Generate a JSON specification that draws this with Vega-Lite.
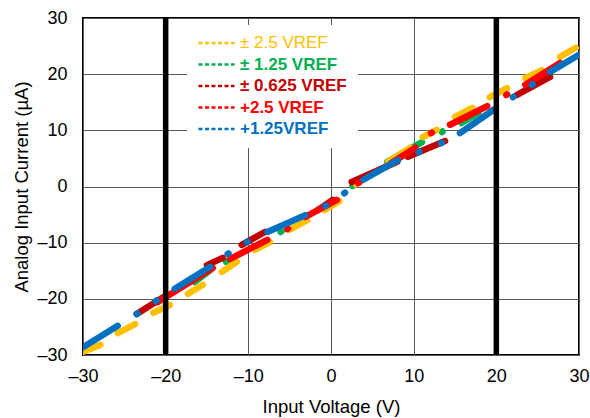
{
  "$schema": "https://vega.github.io/schema/vega-lite/v6.json",
  "width": 496,
  "height": 337,
  "autosize": {"type": "none"},
  "padding": {"left": 83, "top": 18, "right": 11, "bottom": 63},
  "background": "white",
  "config": {
    "view": {"stroke": "black", "strokeWidth": 2},
    "font": "Liberation Sans",
    "axis": {
      "labelFont": "Liberation Sans",
      "titleFont": "Liberation Sans",
      "labelFontSize": 18,
      "titleFontSize": 18.5,
      "titleFontWeight": "normal",
      "labelColor": "black",
      "titleColor": "black",
      "gridColor": "#5a5a5a",
      "gridWidth": 1,
      "ticks": false,
      "domain": false,
      "labelFlush": false
    }
  },
  "datasets": {
    "curves": [
      {"s": "± 1.25 VREF", "g": "G1", "x": -16.5, "y": -17.0},
      {"s": "± 1.25 VREF", "g": "G1", "x": -14.6, "y": -14.9},
      {"s": "± 1.25 VREF", "g": "G2", "x": -12.7, "y": -13.4},
      {"s": "± 1.25 VREF", "g": "G2", "x": -12.6, "y": -13.3},
      {"s": "± 1.25 VREF", "g": "G3", "x": -6.1, "y": -8.1},
      {"s": "± 1.25 VREF", "g": "G3", "x": -6.0, "y": -8.0},
      {"s": "± 1.25 VREF", "g": "G4", "x": 2.6, "y": 0.1},
      {"s": "± 1.25 VREF", "g": "G4", "x": 2.7, "y": 0.2},
      {"s": "± 1.25 VREF", "g": "G5", "x": 6.8, "y": 4.4},
      {"s": "± 1.25 VREF", "g": "G5", "x": 11.0, "y": 7.9},
      {"s": "± 1.25 VREF", "g": "G6", "x": 13.4, "y": 9.7},
      {"s": "± 1.25 VREF", "g": "G6", "x": 13.5, "y": 9.8},
      {"s": "± 1.25 VREF", "g": "G7", "x": 15.8, "y": 11.3},
      {"s": "± 1.25 VREF", "g": "G7", "x": 17.8, "y": 13.1},

      {"s": "± 2.5 VREF", "g": "Y1", "x": -30.3, "y": -29.6},
      {"s": "± 2.5 VREF", "g": "Y1", "x": -27.9, "y": -28.2},
      {"s": "± 2.5 VREF", "g": "Y2", "x": -25.8, "y": -26.1},
      {"s": "± 2.5 VREF", "g": "Y2", "x": -23.7, "y": -24.5},
      {"s": "± 2.5 VREF", "g": "Y3", "x": -21.5, "y": -22.5},
      {"s": "± 2.5 VREF", "g": "Y3", "x": -19.5, "y": -21.1},
      {"s": "± 2.5 VREF", "g": "Y4", "x": -17.3, "y": -19.1},
      {"s": "± 2.5 VREF", "g": "Y4", "x": -15.5, "y": -17.5},
      {"s": "± 2.5 VREF", "g": "Y5", "x": -13.2, "y": -15.2},
      {"s": "± 2.5 VREF", "g": "Y5", "x": -11.4, "y": -13.4},
      {"s": "± 2.5 VREF", "g": "Y6", "x": -9.2, "y": -11.3},
      {"s": "± 2.5 VREF", "g": "Y6", "x": -7.4, "y": -9.9},
      {"s": "± 2.5 VREF", "g": "Y7", "x": -5.0, "y": -7.7},
      {"s": "± 2.5 VREF", "g": "Y7", "x": -2.9, "y": -6.0},
      {"s": "± 2.5 VREF", "g": "Y8", "x": -0.8, "y": -4.2},
      {"s": "± 2.5 VREF", "g": "Y8", "x": 1.0, "y": -2.6},
      {"s": "± 2.5 VREF", "g": "Y9", "x": 3.0, "y": 0.4},
      {"s": "± 2.5 VREF", "g": "Y9", "x": 4.9, "y": 2.2},
      {"s": "± 2.5 VREF", "g": "Y10", "x": 6.9, "y": 4.4},
      {"s": "± 2.5 VREF", "g": "Y10", "x": 9.6, "y": 6.9},
      {"s": "± 2.5 VREF", "g": "Y11", "x": 11.1, "y": 8.8},
      {"s": "± 2.5 VREF", "g": "Y11", "x": 12.8, "y": 10.1},
      {"s": "± 2.5 VREF", "g": "Y12", "x": 15.0, "y": 12.4},
      {"s": "± 2.5 VREF", "g": "Y12", "x": 17.1, "y": 14.0},
      {"s": "± 2.5 VREF", "g": "Y13", "x": 19.2, "y": 15.9},
      {"s": "± 2.5 VREF", "g": "Y13", "x": 21.3, "y": 17.5},
      {"s": "± 2.5 VREF", "g": "Y14", "x": 23.5, "y": 19.3},
      {"s": "± 2.5 VREF", "g": "Y14", "x": 25.5, "y": 20.7},
      {"s": "± 2.5 VREF", "g": "Y15", "x": 27.7, "y": 23.1},
      {"s": "± 2.5 VREF", "g": "Y15", "x": 29.6, "y": 24.7},

      {"s": "± 0.625 VREF", "g": "D1", "x": -23.5, "y": -22.7},
      {"s": "± 0.625 VREF", "g": "D1", "x": -20.3, "y": -19.7},
      {"s": "± 0.625 VREF", "g": "D2", "x": -15.0, "y": -14.0},
      {"s": "± 0.625 VREF", "g": "D2", "x": -13.1, "y": -12.7},
      {"s": "± 0.625 VREF", "g": "D3", "x": -10.8, "y": -10.4},
      {"s": "± 0.625 VREF", "g": "D3", "x": -8.0, "y": -8.1},
      {"s": "± 0.625 VREF", "g": "D4", "x": -1.6, "y": -4.2},
      {"s": "± 0.625 VREF", "g": "D4", "x": 0.2, "y": -2.4},
      {"s": "± 0.625 VREF", "g": "D5", "x": 2.5, "y": 0.8},
      {"s": "± 0.625 VREF", "g": "D5", "x": 8.0, "y": 4.4},
      {"s": "± 0.625 VREF", "g": "D6", "x": 9.3, "y": 5.3},
      {"s": "± 0.625 VREF", "g": "D6", "x": 13.8, "y": 8.1},
      {"s": "± 0.625 VREF", "g": "D7", "x": 22.5, "y": 16.3},
      {"s": "± 0.625 VREF", "g": "D7", "x": 26.5, "y": 19.5},

      {"s": "+2.5 VREF", "g": "R1", "x": -21.0, "y": -20.6},
      {"s": "+2.5 VREF", "g": "R1", "x": -14.3, "y": -14.5},
      {"s": "+2.5 VREF", "g": "R2", "x": -12.2, "y": -12.9},
      {"s": "+2.5 VREF", "g": "R2", "x": -7.7, "y": -9.5},
      {"s": "+2.5 VREF", "g": "R3", "x": -5.3, "y": -7.6},
      {"s": "+2.5 VREF", "g": "R3", "x": -5.2, "y": -7.5},
      {"s": "+2.5 VREF", "g": "R4", "x": -3.1, "y": -5.4},
      {"s": "+2.5 VREF", "g": "R4", "x": 0.7, "y": -2.4},
      {"s": "+2.5 VREF", "g": "R5", "x": 3.3, "y": 0.6},
      {"s": "+2.5 VREF", "g": "R5", "x": 3.4, "y": 0.7},
      {"s": "+2.5 VREF", "g": "R6", "x": 7.3, "y": 4.2},
      {"s": "+2.5 VREF", "g": "R6", "x": 10.2, "y": 6.9},
      {"s": "+2.5 VREF", "g": "R7", "x": 12.1, "y": 9.5},
      {"s": "+2.5 VREF", "g": "R7", "x": 12.2, "y": 9.6},
      {"s": "+2.5 VREF", "g": "R8", "x": 14.4, "y": 11.0},
      {"s": "+2.5 VREF", "g": "R8", "x": 18.9, "y": 14.3},
      {"s": "+2.5 VREF", "g": "R9", "x": 21.2, "y": 16.3},
      {"s": "+2.5 VREF", "g": "R9", "x": 21.3, "y": 16.4},
      {"s": "+2.5 VREF", "g": "R10", "x": 23.5, "y": 18.1},
      {"s": "+2.5 VREF", "g": "R10", "x": 27.7, "y": 22.0},

      {"s": "+1.25VREF", "g": "B1", "x": -30.3, "y": -28.9},
      {"s": "+1.25VREF", "g": "B1", "x": -25.8, "y": -24.8},
      {"s": "+1.25VREF", "g": "B2", "x": -23.5, "y": -22.7},
      {"s": "+1.25VREF", "g": "B2", "x": -23.4, "y": -22.6},
      {"s": "+1.25VREF", "g": "B3", "x": -21.2, "y": -20.4},
      {"s": "+1.25VREF", "g": "B3", "x": -21.1, "y": -20.3},
      {"s": "+1.25VREF", "g": "B4", "x": -18.9, "y": -18.2},
      {"s": "+1.25VREF", "g": "B4", "x": -14.6, "y": -14.3},
      {"s": "+1.25VREF", "g": "B5", "x": -12.5, "y": -12.0},
      {"s": "+1.25VREF", "g": "B5", "x": -12.4, "y": -11.9},
      {"s": "+1.25VREF", "g": "B6", "x": -10.2, "y": -9.9},
      {"s": "+1.25VREF", "g": "B6", "x": -10.1, "y": -9.8},
      {"s": "+1.25VREF", "g": "B7", "x": -7.7, "y": -8.1},
      {"s": "+1.25VREF", "g": "B7", "x": -3.1, "y": -5.1},
      {"s": "+1.25VREF", "g": "B8", "x": -0.7, "y": -3.5},
      {"s": "+1.25VREF", "g": "B8", "x": -0.6, "y": -3.4},
      {"s": "+1.25VREF", "g": "B9", "x": 1.6, "y": -1.2},
      {"s": "+1.25VREF", "g": "B9", "x": 1.7, "y": -1.1},
      {"s": "+1.25VREF", "g": "B10", "x": 3.9, "y": 1.2},
      {"s": "+1.25VREF", "g": "B10", "x": 8.1, "y": 4.7},
      {"s": "+1.25VREF", "g": "B11", "x": 10.6, "y": 6.1},
      {"s": "+1.25VREF", "g": "B11", "x": 10.7, "y": 6.2},
      {"s": "+1.25VREF", "g": "B12", "x": 13.3, "y": 7.7},
      {"s": "+1.25VREF", "g": "B12", "x": 13.4, "y": 7.8},
      {"s": "+1.25VREF", "g": "B13", "x": 15.6, "y": 9.5},
      {"s": "+1.25VREF", "g": "B13", "x": 19.8, "y": 13.8},
      {"s": "+1.25VREF", "g": "B14", "x": 22.0, "y": 15.9},
      {"s": "+1.25VREF", "g": "B14", "x": 22.1, "y": 16.0},
      {"s": "+1.25VREF", "g": "B15", "x": 24.3, "y": 18.1},
      {"s": "+1.25VREF", "g": "B15", "x": 24.4, "y": 18.2},
      {"s": "+1.25VREF", "g": "B16", "x": 26.5, "y": 20.4},
      {"s": "+1.25VREF", "g": "B16", "x": 30.4, "y": 23.8}
    ],
    "limits": [{"v": -20}, {"v": 20}]
  },
  "layer": [
    {
      "data": {"name": "curves"},
      "mark": {"type": "line", "strokeWidth": 6.5, "strokeCap": "round", "clip": true},
      "encoding": {
        "x": {
          "field": "x", "type": "quantitative",
          "scale": {"domain": [-30, 30], "nice": false, "zero": false},
          "axis": {
            "values": [-30, -20, -10, 0, 10, 20, 30],
            "title": "Input Voltage (V)",
            "labelPadding": 12,
            "titlePadding": 12,
            "labelExpr": "datum.value < 0 ? '–' + abs(datum.value) : '' + datum.value"
          }
        },
        "y": {
          "field": "y", "type": "quantitative",
          "scale": {"domain": [-30, 30], "nice": false, "zero": false},
          "axis": {
            "values": [-30, -20, -10, 0, 10, 20, 30],
            "title": "Analog Input Current (µA)",
            "labelPadding": 16,
            "titlePadding": 5,
            "labelExpr": "datum.value < 0 ? '–' + abs(datum.value) : '' + datum.value"
          }
        },
        "detail": {"field": "g"},
        "color": {
          "field": "s", "type": "nominal",
          "scale": {
            "domain": ["± 2.5 VREF", "± 1.25 VREF", "± 0.625 VREF", "+2.5 VREF", "+1.25VREF"],
            "range": ["#FFC000", "#00B050", "#C00000", "#FF0000", "#0070C0"]
          },
          "legend": {
            "orient": "none",
            "legendX": 104,
            "legendY": 7,
            "title": null,
            "symbolType": "stroke",
            "symbolSize": 1300,
            "symbolStrokeWidth": 2.5,
            "symbolDash": [4, 2.5],
            "clipHeight": 16,
            "labelFont": "Liberation Sans",
            "labelFontSize": 17,
            "labelOffset": 4,
            "rowPadding": 4.5,
            "padding": 10,
            "fillColor": "white",
            "strokeColor": "white",
            "encode": {
              "labels": {
                "update": {
                  "fill": {"scale": "color", "field": "value"},
                  "fontWeight": {"signal": "datum.value === '± 2.5 VREF' ? 'normal' : 'bold'"}
                }
              }
            }
          }
        }
      }
    },
    {
      "data": {"name": "limits"},
      "mark": {"type": "rule", "color": "black", "strokeWidth": 5.5},
      "encoding": {
        "x": {"field": "v", "type": "quantitative"}
      }
    }
  ]
}
